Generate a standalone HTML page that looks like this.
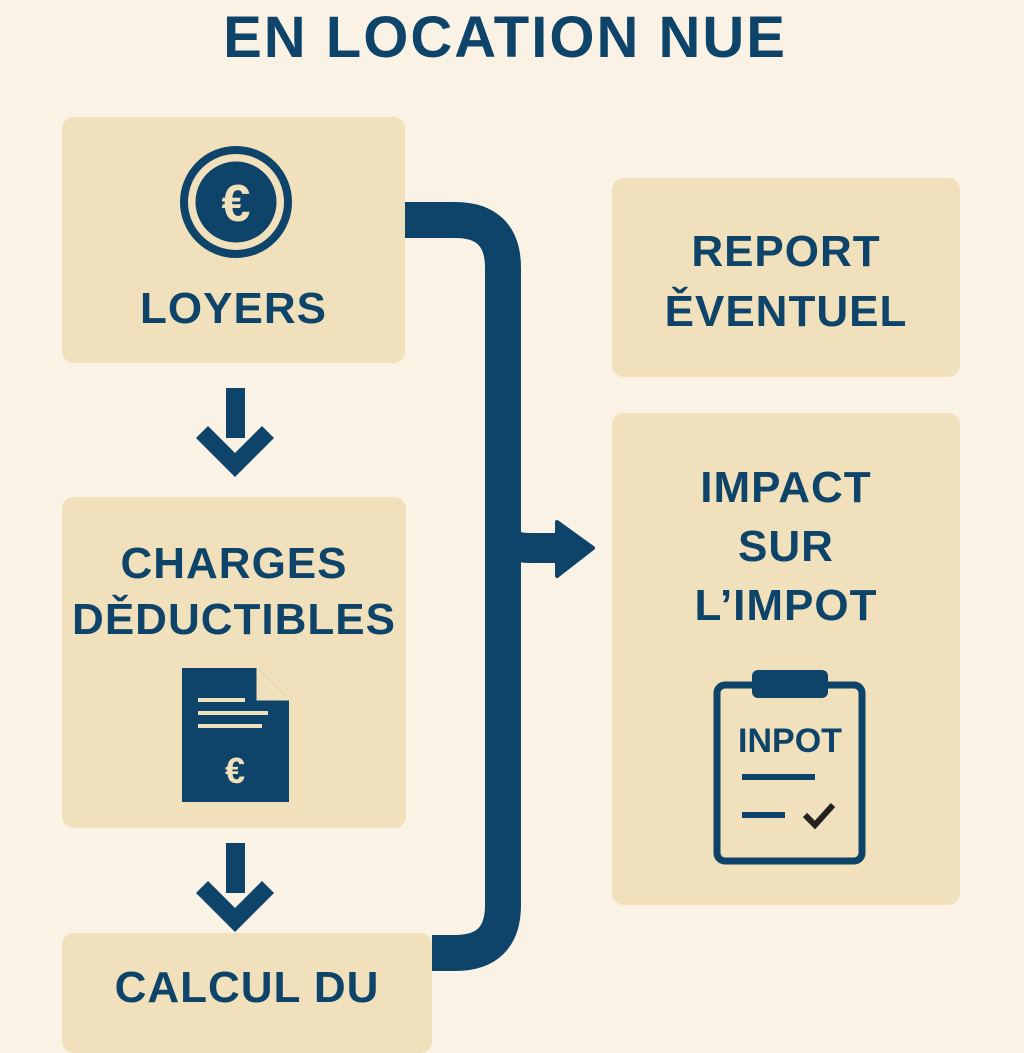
<!DOCTYPE html>
<html><head><meta charset="utf-8"><style>
body{margin:0;width:1024px;height:1024px;overflow:hidden;background:#f9f2e5;position:relative;font-family:"Liberation Sans","DejaVu Sans",sans-serif;}
.b{position:absolute;background:#f0e0bb;border-radius:12px;}
.t{position:absolute;left:0;width:100%;text-align:center;color:#0e4469;font-weight:bold;letter-spacing:1px;}
</style></head><body>
<div class="t" style="top:4px;left:0;width:1010px;font-size:58px;letter-spacing:2px;">EN LOCATION NUE</div>

<div class="b" style="left:62px;top:117px;width:343px;height:246px;"></div>
<div class="b" style="left:62px;top:497px;width:344px;height:331px;"></div>
<div class="b" style="left:62px;top:933px;width:370px;height:120px;"></div>
<div class="b" style="left:612px;top:178px;width:348px;height:199px;"></div>
<div class="b" style="left:612px;top:413px;width:348px;height:492px;"></div>

<div class="t" style="left:62px;width:343px;top:284px;font-size:44px;">LOYERS</div>
<div class="t" style="left:62px;width:344px;top:536px;font-size:44px;line-height:56px;">CHARGES<br>DĚDUCTIBLES</div>
<div class="t" style="left:62px;width:370px;top:963px;font-size:44px;">CALCUL DU</div>
<div class="t" style="left:612px;width:348px;top:222px;font-size:44px;line-height:60px;">REPORT<br>ĚVENTUEL</div>
<div class="t" style="left:612px;width:348px;top:458px;font-size:44px;line-height:59px;">IMPACT<br>SUR<br>L’IMPOT</div>

<svg width="1024" height="1024" style="position:absolute;left:0;top:0">
<g fill="#0e4469" stroke="#0e4469">
<circle cx="236" cy="202" r="52" fill="none" stroke-width="8"/>
<circle cx="236" cy="202" r="40"/>
<text x="236" y="221" font-size="52" font-weight="bold" fill="#f0e0bb" stroke="none" text-anchor="middle" font-family="Liberation Sans">€</text>
<rect x="226" y="388" width="19" height="50" stroke="none"/>
<path d="M202 432 L235 465 L268 432" fill="none" stroke-width="17"/>
<rect x="226" y="843" width="19" height="50" stroke="none"/>
<path d="M202 887 L235 920 L268 887" fill="none" stroke-width="17"/>
<path d="M405 220 H455 Q503 220 503 268 V905 Q503 953 455 953 H432" fill="none" stroke-width="36"/>
<path d="M503 535 Q508 548 530 548 H560" fill="none" stroke-width="30"/>
<path d="M557 522 L593 548 L557 576 Z" stroke-width="4" stroke-linejoin="round"/>
<path d="M182 668 H258 L289 699 V802 H182 Z" stroke="none"/>
<path d="M258 668 V699 H289" fill="#f0e0bb" stroke="#f0e0bb" stroke-width="3"/>
<g stroke="#f0e0bb" stroke-width="4"><line x1="198" y1="700" x2="245" y2="700"/><line x1="198" y1="713" x2="268" y2="713"/><line x1="198" y1="726" x2="262" y2="726"/></g>
<text x="235" y="783" font-size="36" font-weight="bold" fill="#f0e0bb" stroke="none" text-anchor="middle" font-family="Liberation Sans">€</text>
<rect x="717" y="685" width="145" height="176" rx="8" fill="none" stroke-width="7"/>
<rect x="752" y="670" width="76" height="28" rx="6" stroke="none"/>
<text x="790" y="752" font-size="34" font-weight="bold" fill="#0e4469" stroke="none" text-anchor="middle" font-family="Liberation Sans">INPOT</text>
<line x1="742" y1="777" x2="815" y2="777" stroke-width="6"/>
<line x1="742" y1="815" x2="785" y2="815" stroke-width="6"/>
<path d="M805 815 L815 825 L833 805" fill="none" stroke="#222" stroke-width="6"/>
</g>
</svg>
</body></html>
